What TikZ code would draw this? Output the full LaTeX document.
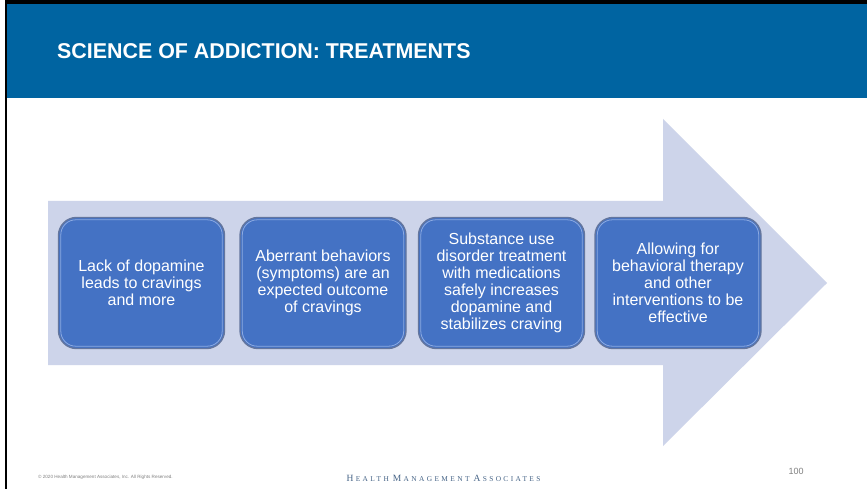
\documentclass[tikz,border=0pt]{standalone}
\usepackage{fontspec}
\setmainfont{Liberation Sans}
\newfontfamily\logofont[LetterSpace=32]{Liberation Serif}
\definecolor{hdrblue}{RGB}{0,100,161}
\definecolor{arrowfill}{RGB}{205,212,234}
\definecolor{boxblue}{RGB}{68,114,196}
\definecolor{boxedge}{RGB}{100,118,158}
\definecolor{boxshine}{RGB}{140,170,225}
\definecolor{logoblue}{RGB}{70,100,135}
\newcommand\logoinitial[1]{{\fontsize{9.5}{9}\selectfont #1}\kern2.4pt}
\tikzset{
  stagebox/.style={rounded corners=18pt,fill=boxblue,draw=boxedge,line width=1.4pt,
    minimum width=166pt,minimum height=131pt,align=center,text=white,
    font=\fontsize{16}{17}\selectfont,inner sep=2pt},
  footnote/.style={text=gray,inner sep=0pt}
}
\begin{document}
\begin{tikzpicture}[x=1pt,y=-1pt]
\useasboundingbox (0,0) rectangle (867,489);
\fill[white] (0,0) rectangle (867,489);
% slide frame and title bar
\fill[black] (5,0) rectangle (867,4);
\fill[black] (5,0) rectangle (7,489);
\fill[hdrblue] (7,4) rectangle (867,98);
\node[anchor=base west,text=white,inner sep=0pt,font=\bfseries\fontsize{21.4}{24}\selectfont]
  (title) at (57,59) {SCIENCE OF ADDICTION: TREATMENTS};
% big arrow behind the boxes
\fill[arrowfill] (48,201) -- (663,201) -- (663,119) -- (827,283)
  -- (663,446) -- (663,365) -- (48,365) -- cycle;
\foreach \i/\x/\txt in {1/141.5/{Lack of dopamine\\leads to cravings\\and more},
    2/323/{Aberrant behaviors\\(symptoms) are an\\expected outcome\\of cravings},
    3/501.5/{Substance use\\disorder treatment\\with medications\\safely increases\\dopamine and\\stabilizes craving},
    4/678/{Allowing for\\behavioral therapy\\and other\\interventions to be\\effective}} {
  \node[stagebox] (stage\i) at (\x,283) {\txt};
  \draw[boxshine,line width=0.8pt,rounded corners=15pt]
    ([shift={(3pt,3pt)}]stage\i.south west) rectangle ([shift={(-3pt,-3pt)}]stage\i.north east);
}
% footer
\node[footnote,anchor=west,font=\fontsize{4.6}{5}\selectfont] (copy) at (38,477)
  {\textcopyright{} 2020 Health Management Associates, Inc. All Rights Reserved.};
\node[anchor=base,text=logoblue,inner sep=0pt] (logo) at (443.5,481)
  {\logofont\logoinitial{H}{\fontsize{7.4}{7}\selectfont EALTH}\hspace{4pt}\logoinitial{M}{\fontsize{7.4}{7}\selectfont ANAGEMENT}\hspace{4pt}\logoinitial{A}{\fontsize{7.4}{7}\selectfont SSOCIATES}};
\node[footnote,anchor=base,font=\fontsize{9}{9}\selectfont] (page) at (796,474) {100};
\end{tikzpicture}
\end{document}
